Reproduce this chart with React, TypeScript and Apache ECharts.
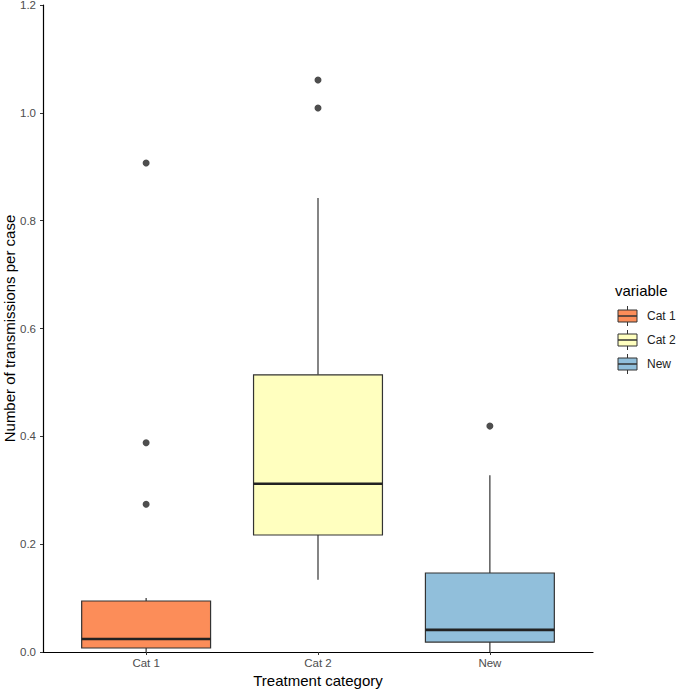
import React, { useEffect, useRef } from "react";
import * as echarts from "echarts";

const categories = ["Cat 1", "Cat 2", "New"];
const colors = ["#FC8D59", "#FFFFBF", "#91BFDB"];
// [lower whisker, Q1, median, Q3, upper whisker]
const boxCat1 = [0.0, 0.0074, 0.024, 0.0946, 0.1];
const boxCat2 = [0.134, 0.217, 0.312, 0.514, 0.842];
const boxNew = [0.0, 0.0185, 0.041, 0.1465, 0.328];
const outliersCat1 = [0.907, 0.388, 0.274];
const outliersCat2 = [1.061, 1.009];
const outliersNew = [0.419];
const yTicks = [0, 0.2, 0.4, 0.6, 0.8, 1.0, 1.2];

const boxes = [boxCat1, boxCat2, boxNew];
const outliers = [outliersCat1, outliersCat2, outliersNew];

export default function App() {
  const ref = useRef<HTMLDivElement>(null);
  useEffect(() => {
    const chart = echarts.init(ref.current!, null, { renderer: "svg" });
    const boxData = boxes.map((b, i) => [i, ...b]);
    const outlierData: number[][] = [];
    outliers.forEach((arr, i) => arr.forEach((v) => outlierData.push([i, v])));
    const font = "Liberation Sans, Arial, sans-serif";
    const catIdx = categories.map((_, i) => i);

    const legendGraphics: any[] = [
      {
        type: "text",
        x: 615,
        y: 290,
        style: { text: "variable", font: `15px ${font}`, fill: "#000", verticalAlign: "middle" },
      },
    ];
    categories.forEach((c, i) => {
      const cy = 316 + i * 24;
      legendGraphics.push(
        {
          type: "line",
          shape: { x1: 627.5, y1: cy - 10, x2: 627.5, y2: cy + 10 },
          style: { stroke: "#333", lineWidth: 1 },
        },
        {
          type: "rect",
          shape: { x: 618, y: cy - 6, width: 19, height: 12 },
          style: { fill: colors[i], stroke: "#333", lineWidth: 1 },
        },
        {
          type: "line",
          shape: { x1: 618, y1: cy, x2: 637, y2: cy },
          style: { stroke: "#333", lineWidth: 1.5 },
        },
        {
          type: "text",
          x: 647,
          y: cy,
          style: {
            text: c,
            font: `12px ${font}`,
            fill: "#222",
            verticalAlign: "middle",
          },
        }
      );
    });

    chart.setOption({
      animation: false,
      grid: {
        left: 43,
        right: 84,
        top: 5,
        bottom: 38,
        containLabel: false,
        outerBoundsMode: "none",
      },
      xAxis: {
        type: "value",
        min: -0.6,
        max: 2.6,
        name: "Treatment category",
        nameLocation: "middle",
        nameGap: 21,
        nameMoveOverlap: false,
        nameTextStyle: { fontFamily: font, fontSize: 15, color: "#000" },
        axisLine: { show: true, onZero: false, lineStyle: { color: "#000", width: 1.2 } },
        axisTick: {
          show: true,
          length: 3,
          customValues: catIdx,
          lineStyle: { color: "#333" },
        },
        axisLabel: {
          fontFamily: font,
          fontSize: 11.5,
          color: "#4D4D4D",
          margin: 5,
          customValues: catIdx,
          formatter: (v: number) => categories[Math.round(v)] ?? "",
        },
        splitLine: { show: false },
      },
      yAxis: {
        type: "value",
        min: 0,
        max: 1.2,
        interval: 0.2,
        name: "Number of transmissions per case",
        nameLocation: "middle",
        nameGap: 26,
        nameMoveOverlap: false,
        nameTextStyle: { fontFamily: font, fontSize: 15, color: "#000" },
        axisLine: { show: true, onZero: false, lineStyle: { color: "#000", width: 1.2 } },
        axisTick: { show: true, length: 3, lineStyle: { color: "#333" } },
        axisLabel: {
          fontFamily: font,
          fontSize: 11.5,
          color: "#4D4D4D",
          margin: 7,
          customValues: yTicks,
          formatter: (v: number) => v.toFixed(1),
        },
        splitLine: { show: false },
      },
      graphic: legendGraphics,
      series: [
        {
          type: "custom",
          data: boxData,
          encode: { x: 0, y: [1, 2, 3, 4, 5] },
          renderItem: (params: any, api: any) => {
            const idx = api.value(0);
            const x = api.coord([idx, 0])[0];
            const ys = [1, 2, 3, 4, 5].map((d) => api.coord([idx, api.value(d)])[1]);
            const halfW = api.size([0.75, 0])[0] / 2;
            const stroke = "#333";
            return {
              type: "group",
              children: [
                {
                  type: "line",
                  shape: { x1: x, y1: ys[0], x2: x, y2: ys[1] },
                  style: { stroke, lineWidth: 1.2 },
                },
                {
                  type: "line",
                  shape: { x1: x, y1: ys[3], x2: x, y2: ys[4] },
                  style: { stroke, lineWidth: 1.2 },
                },
                {
                  type: "rect",
                  shape: { x: x - halfW, y: ys[3], width: halfW * 2, height: ys[1] - ys[3] },
                  style: { fill: colors[idx], stroke, lineWidth: 1.2 },
                },
                {
                  type: "line",
                  shape: { x1: x - halfW, y1: ys[2], x2: x + halfW, y2: ys[2] },
                  style: { stroke: "#222", lineWidth: 2.6 },
                },
              ],
            };
          },
        },
        {
          type: "scatter",
          data: outlierData,
          symbolSize: 7,
          itemStyle: { color: "#222" },
        },
      ],
    });
    return () => chart.dispose();
  }, []);
  return <div ref={ref} style={{ width: 677, height: 690, position: "absolute", left: 0, top: 0 }} />;
}
